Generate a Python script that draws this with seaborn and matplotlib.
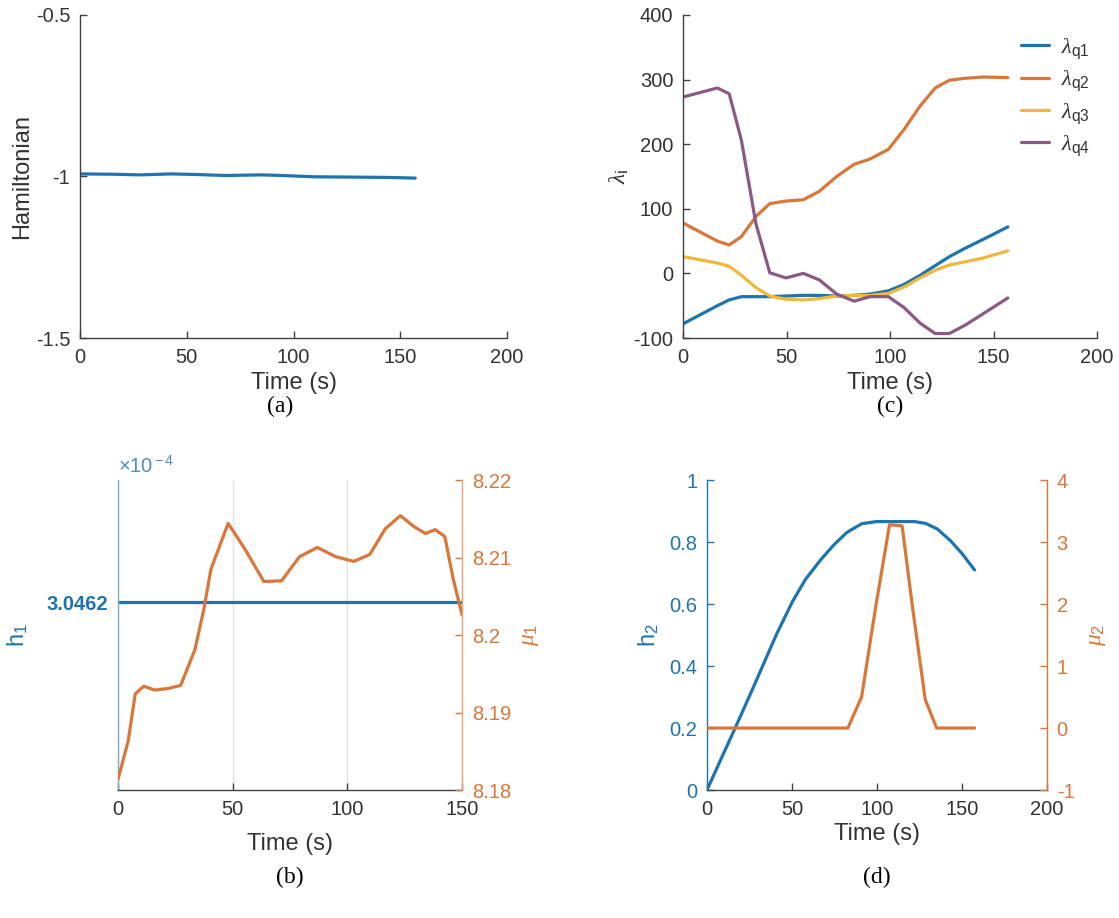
import numpy as np
import pandas as pd
import matplotlib
matplotlib.use("Agg")
import matplotlib.pyplot as plt
import seaborn as sns

# (a) Hamiltonian
t_a = [0, 15, 28, 43, 55, 68, 85, 95, 110, 130, 145, 157]
ham = [-0.992, -0.993, -0.995, -0.992, -0.994, -0.997, -0.995, -0.997, -1.001, -1.002, -1.003, -1.005]

# (c) costates
t_c = [0, 16.6, 22.3, 28.2, 35.2, 41.9, 49.7, 58.1, 65.8, 74.2, 82.7, 90.3, 99.2,
       106.8, 114.5, 121.8, 128.7, 136.3, 145.2, 156.9]
lam_q1 = [-78, -50, -41, -36, -36, -36, -35, -34, -34, -35, -34, -32, -27, -17, -3, 12, 26, 39, 53, 72]
lam_q2 = [78, 50, 44, 57, 88, 108, 112, 114, 127, 150, 169, 177, 192, 223, 259, 287, 299, 302, 304, 303]
lam_q3 = [26, 16, 11, -3, -22, -35, -40, -41, -39, -35, -34, -34, -31, -21, -7, 5, 13, 18, 24, 35]
lam_q4 = [273, 287, 278, 206, 77, 1, -7, 0, -10, -32, -43, -36, -36, -53, -77, -93, -93, -80, -62, -38]
lam_names = [r'$\lambda_{\rm q1}$', r'$\lambda_{\rm q2}$', r'$\lambda_{\rm q3}$', r'$\lambda_{\rm q4}$']

# (b) h1 and mu1
t_b = [0, 4.4, 7.5, 11.2, 15.9, 21.8, 27.3, 33.5, 37.4, 40.5, 48, 55.3, 63.6, 71.3, 79.1,
       86.9, 95, 102.8, 109.8, 116.5, 123.1, 129, 134, 138.3, 142.5, 146.1, 150]
mu1 = [8.1814, 8.1863, 8.1924, 8.1934, 8.1929, 8.1931, 8.1935, 8.1981, 8.2033, 8.2085, 8.2144,
       8.2111, 8.2069, 8.2070, 8.2101, 8.2113, 8.2101, 8.2095, 8.2104, 8.2137, 8.2154, 8.2140,
       8.2131, 8.2136, 8.2127, 8.2073, 8.2026]
h1_value = 3.0462e-4

# (d) h2 and mu2
t_d = [0, 8, 16.5, 27, 40.7, 50.3, 58, 66.8, 74.5, 82.3, 91, 99.7, 108.4, 115, 122, 128.7,
       135.5, 143.3, 150, 157.4]
h2 = [0, 0.097, 0.199, 0.328, 0.5, 0.608, 0.68, 0.742, 0.79, 0.831, 0.859, 0.866, 0.866,
      0.866, 0.866, 0.860, 0.842, 0.804, 0.763, 0.71]
t_mu2 = [0, 82.9, 91, 99.1, 107.4, 114.8, 121, 128.4, 135.1, 157.4]
mu2 = [0, 0, 0.505, 1.93, 3.28, 3.26, 1.93, 0.46, 0, 0]

BLUE = '#1f74ae'
ORANGE = '#d9773a'
YELLOW = '#efb73e'
PURPLE = '#8a5a84'
GRAY = '#404040'
TXT = '#333333'

sns.set_theme(style='white')
plt.rcParams['font.family'] = ['Liberation Sans', 'DejaVu Sans']
plt.rcParams['axes.unicode_minus'] = False
plt.rcParams['mathtext.fontset'] = 'custom'
plt.rcParams['mathtext.rm'] = 'Liberation Sans'
plt.rcParams['mathtext.it'] = 'Liberation Serif:italic'

TICK = 14.5
LAB = 17
LW = 2.3

fig = plt.figure(figsize=(11.19, 9.18), dpi=100)


def style(ax):
    ax.tick_params(direction='in', length=5, labelsize=TICK, colors=GRAY, labelcolor=TXT,
                   width=1, pad=7, bottom=True, left=True)
    for s in ['top', 'right']:
        ax.spines[s].set_visible(False)
    for s in ['left', 'bottom']:
        ax.spines[s].set_color(GRAY)
        ax.spines[s].set_linewidth(1)
    ax.xaxis.label.set_color(TXT)
    ax.yaxis.label.set_color(TXT)


def style_right(ax, color, spine_color):
    ax.tick_params(direction='in', length=5, labelsize=TICK, colors=color, width=1, pad=7,
                   right=True)
    for s in ['top', 'left', 'bottom']:
        ax.spines[s].set_visible(False)
    ax.spines['right'].set_color(spine_color)
    ax.spines['right'].set_linewidth(1)


# ---- (a)
ax_a = fig.add_axes([0.0715, 0.6318, 0.3816, 0.3519])
sns.lineplot(x=t_a, y=ham, ax=ax_a, color=BLUE, linewidth=LW)
ax_a.set_xlim(0, 200)
ax_a.set_ylim(-1.5, -0.5)
ax_a.set_yticks([-1.5, -1, -0.5])
ax_a.set_yticklabels(['-1.5', '-1', '-0.5'])
ax_a.set_xticks([0, 50, 100, 150, 200])
ax_a.set_xlabel('Time (s)', fontsize=LAB, labelpad=4)
ax_a.set_ylabel('Hamiltonian', fontsize=LAB, labelpad=2)
style(ax_a)

# ---- (c)
ax_c = fig.add_axes([0.6104, 0.6318, 0.370, 0.3519])
df_c = pd.DataFrame({'t': t_c * 4,
                     'val': lam_q1 + lam_q2 + lam_q3 + lam_q4,
                     'name': sum([[n] * len(t_c) for n in lam_names], [])})
sns.lineplot(data=df_c, x='t', y='val', hue='name', ax=ax_c,
             palette=[BLUE, ORANGE, YELLOW, PURPLE], linewidth=LW)
ax_c.set_xlim(0, 200)
ax_c.set_ylim(-100, 400)
ax_c.set_xticks([0, 50, 100, 150, 200])
ax_c.set_yticks([-100, 0, 100, 200, 300, 400])
ax_c.set_xlabel('Time (s)', fontsize=LAB, labelpad=4)
ax_c.set_ylabel(r'$\lambda_{\rm i}$', fontsize=LAB, labelpad=2)
leg = ax_c.legend(loc='upper right', frameon=False, fontsize=16, handlelength=1.3,
                  handletextpad=0.5, bbox_to_anchor=(1.03, 0.995), labelspacing=0.35)
for txt in leg.get_texts():
    txt.set_color(TXT)
style(ax_c)

# ---- (b)
ax_b = fig.add_axes([0.1055, 0.1394, 0.3074, 0.3377])
sns.lineplot(x=[t_b[0], t_b[-1]], y=[h1_value, h1_value], ax=ax_b, color=BLUE, linewidth=LW)
d = 1e-9
ax_b.set_ylim(h1_value - 0.606 * d, h1_value + 0.394 * d)
ax_b.set_yticks([h1_value])
ax_b.set_yticklabels(['3.0462'], fontweight='bold')
ax_b.set_xlim(0, 150)
ax_b.set_xticks([0, 50, 100, 150])
ax_b.set_xlabel('Time (s)', fontsize=LAB, labelpad=10)
ax_b.set_ylabel(r'h$_1$', fontsize=LAB, color=BLUE, labelpad=12)
style(ax_b)
ax_b.grid(axis='x', color='#e3e3e3', linewidth=1)
ax_b.set_axisbelow(True)
ax_b.spines['left'].set_color('#7fabcf')
ax_b.tick_params(axis='y', colors=BLUE, labelcolor=BLUE)
ax_b.yaxis.label.set_color(BLUE)
ax_b.text(0.0, 1.01, r'$\times$10$^{\rm -4}$', transform=ax_b.transAxes, color='#4a8fc2',
          fontsize=TICK, ha='left', va='bottom')

ax_b2 = ax_b.twinx()
sns.lineplot(x=t_b, y=mu1, ax=ax_b2, color=ORANGE, linewidth=LW)
ax_b2.set_ylim(8.18, 8.22)
ax_b2.set_yticks([8.18, 8.19, 8.2, 8.21, 8.22])
ax_b2.set_yticklabels(['8.18', '8.19', '8.2', '8.21', '8.22'])
ax_b2.set_ylabel(r'$\mu_1$', fontsize=LAB, color=ORANGE, labelpad=6)
style_right(ax_b2, ORANGE, '#e2a47c')

# ---- (d)
ax_d = fig.add_axes([0.6318, 0.1394, 0.3038, 0.3377])
sns.lineplot(x=t_d, y=h2, ax=ax_d, color=BLUE, linewidth=LW)
ax_d.set_xlim(0, 200)
ax_d.set_ylim(0, 1)
ax_d.set_xticks([0, 50, 100, 150, 200])
ax_d.set_yticks([0, 0.2, 0.4, 0.6, 0.8, 1])
ax_d.set_yticklabels(['0', '0.2', '0.4', '0.6', '0.8', '1'])
ax_d.set_xlabel('Time (s)', fontsize=LAB, labelpad=3)
ax_d.set_ylabel(r'h$_2$', fontsize=LAB, color=BLUE, labelpad=6)
style(ax_d)
ax_d.spines['left'].set_color(BLUE)
ax_d.tick_params(axis='y', colors=BLUE, labelcolor=BLUE)
ax_d.yaxis.label.set_color(BLUE)

ax_d2 = ax_d.twinx()
sns.lineplot(x=t_mu2, y=mu2, ax=ax_d2, color=ORANGE, linewidth=LW)
ax_d2.set_ylim(-1, 4)
ax_d2.set_yticks([-1, 0, 1, 2, 3, 4])
ax_d2.set_yticklabels(['-1', '0', '1', '2', '3', '4'])
ax_d2.set_ylabel(r'$\mu_2$', fontsize=LAB, color=ORANGE, labelpad=8)
style_right(ax_d2, ORANGE, ORANGE)

# captions
for x, y, s in [(280, 406, '(a)'), (890, 406, '(c)'), (290, 877, '(b)'), (877, 877, '(d)')]:
    fig.text(x / 1119, 1 - y / 918, s, ha='center', va='center', fontsize=17,
             family='Liberation Serif', color='black')

fig.savefig('out.png', dpi=100)
